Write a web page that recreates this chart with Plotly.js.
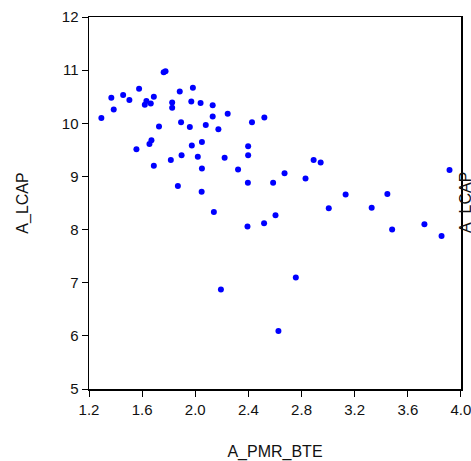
<!DOCTYPE html>
<html>
<head>
<meta charset="utf-8">
<script src="https://cdn.plot.ly/plotly-3.0.1.min.js"></script>
<style>html,body{margin:0;padding:0;background:#fff;}#chart{width:471px;height:461px;}</style>
</head>
<body>
<div id="chart"></div>
<script>
const xTitle = "A_PMR_BTE";
const yTitle = "A_LCAP";
const xTicks = [1.2, 1.6, 2.0, 2.4, 2.8, 3.2, 3.6, 4.0];
const xTickText = ["1.2", "1.6", "2.0", "2.4", "2.8", "3.2", "3.6", "4.0"];
const yTicks = [5, 6, 7, 8, 9, 10, 11, 12];

const pmrBte = [
  1.293, 1.368, 1.386, 1.457, 1.504, 1.577, 1.620, 1.632, 1.665, 1.688,
  1.762, 1.776, 1.557, 1.655, 1.670, 1.688, 1.727, 1.826, 1.826, 1.883,
  1.893, 1.816, 1.897, 1.869, 1.959, 1.982, 1.970, 2.040, 1.974, 2.019,
  2.050, 2.079, 2.131, 2.131, 2.174, 2.050, 2.048, 2.244, 2.221, 2.140,
  2.193, 2.322, 2.398, 2.398, 2.396, 2.393, 2.427, 2.520, 2.518, 2.586,
  2.604, 2.626, 2.672, 2.757, 2.830, 2.891, 2.944, 3.005, 3.132, 3.328,
  3.446, 3.482, 3.725, 3.854, 3.914
];
const lcap = [
  10.10, 10.48, 10.26, 10.53, 10.44, 10.65, 10.35, 10.42, 10.37, 10.50,
  10.96, 10.98, 9.51, 9.61, 9.68, 9.20, 9.94, 10.39, 10.29, 10.60,
  10.02, 9.31, 9.40, 8.82, 9.93, 10.67, 10.41, 10.38, 9.58, 9.37,
  9.65, 9.97, 10.34, 10.13, 9.89, 9.15, 8.71, 10.18, 9.35, 8.33,
  6.87, 9.13, 9.57, 9.40, 8.88, 8.06, 10.02, 10.11, 8.12, 8.88,
  8.27, 6.09, 9.06, 7.10, 8.96, 9.31, 9.26, 8.40, 8.66, 8.41,
  8.67, 8.00, 8.10, 7.88, 9.12
];

const font = "Liberation Sans, Arial, sans-serif";

const trace = {
  x: pmrBte,
  y: lcap,
  type: "scatter",
  mode: "markers",
  marker: {color: "#0000FF", size: 6, line: {width: 0}},
  hoverinfo: "skip"
};

const axisCommon = {
  showgrid: false,
  zeroline: false,
  showline: true,
  linecolor: "#000",
  linewidth: 1.5,
  mirror: true,
  ticks: "outside",
  ticklen: 6,
  tickwidth: 1,
  tickcolor: "#000",
  ticklabeloverflow: "allow",
  tickfont: {family: font, size: 15, color: "#111"}
};

const layout = {
  width: 471,
  height: 461,
  margin: {l: 89, r: 10, t: 17, b: 72},
  paper_bgcolor: "#fff",
  plot_bgcolor: "#fff",
  showlegend: false,
  xaxis: Object.assign({}, axisCommon, {
    range: [1.1999, 4.0005],
    tickvals: xTicks,
    ticktext: xTickText,
    title: {text: xTitle, font: {family: font, size: 16, color: "#111"}, standoff: 33}
  }),
  yaxis: Object.assign({}, axisCommon, {
    range: [5, 12],
    tickvals: yTicks,
    title: {text: yTitle, font: {family: font, size: 16, color: "#111"}, standoff: 29}
  }),
  annotations: [{
    text: yTitle,
    xref: "paper", yref: "paper",
    x: 1, y: 0.5,
    xanchor: "left", yanchor: "middle",
    xshift: -6,
    textangle: -90,
    showarrow: false,
    font: {family: font, size: 16, color: "#111"}
  }]
};

Plotly.newPlot("chart", [trace], layout, {displayModeBar: false, staticPlot: true});
</script>
</body>
</html>
